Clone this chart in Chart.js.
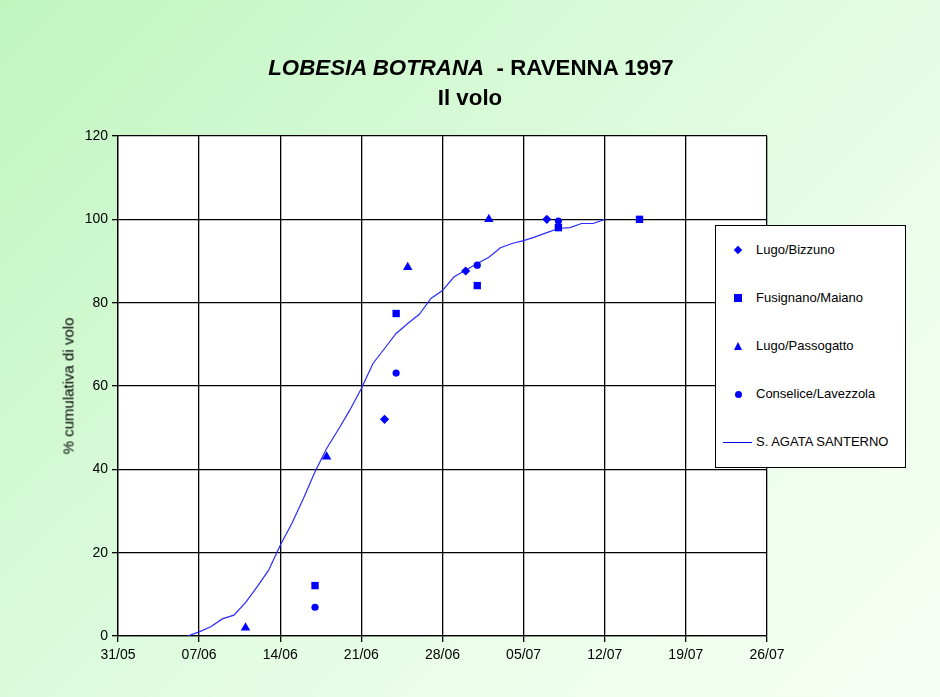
<!DOCTYPE html>
<html>
<head>
<meta charset="utf-8">
<script src="https://cdn.jsdelivr.net/npm/chart.js@4.4.1/dist/chart.umd.min.js"></script>
<style>
    html, body { margin: 0; padding: 0; }
    body {
        width: 940px; height: 697px; overflow: hidden; position: relative;
        font-family: "Liberation Sans", Arial, sans-serif;
        background: linear-gradient(135deg, #c0f5c0 0%, #dcfbdc 45%, #eefeec 75%, #f6fff4 100%);
    }
    #chart { position: absolute; left: 0; top: 0; }
    .title { position: absolute; left: 0; width: 940px; text-align: center; font-size: 22.3px; color: #000; font-weight: bold; }
    .title1 { top: 55px; left: 1px; }
    .title2 { top: 85px; }
    .ytitle {
        position: absolute; left: 68px; top: 386px; font-size: 15px; color: #000; font-weight: normal;
        transform: translate(-50%, -50%) rotate(-90deg); white-space: nowrap;
    }
    .legend {
        position: absolute; left: 715px; top: 225px; width: 191px; height: 243px;
        background: #fff; border: 1px solid #000; box-sizing: border-box;
    }
    .legend-item { position: absolute; left: 0; height: 16px; font-size: 13px; color: #000; }
    .legend-item span { position: absolute; left: 40px; top: 0; white-space: nowrap; line-height: 16px; }
    .mk { position: absolute; background: #0000ff; }
</style>
</head>
<body>
<canvas id="chart" width="940" height="697"></canvas>
<div class="title title1"><i>LOBESIA BOTRANA</i>&nbsp; - RAVENNA 1997</div>
<div class="title title2">Il volo</div>
<div class="ytitle">% cumulativa di volo</div>
<div class="legend" id="legend"></div>
<script>
// giorni dal 31/05
const tickLabels = ['31/05', '07/06', '14/06', '21/06', '28/06', '05/07', '12/07', '19/07', '26/07'];

const bizzunoDays = [23, 30, 37];
const bizzunoValues = [52, 87.6, 100];

const fusignanoDays = [17, 24, 31, 38, 45];
const fusignanoValues = [12.1, 77.4, 84.1, 98, 100];

const passogattoDays = [11, 18, 25, 32];
const passogattoValues = [2, 43, 88.5, 100];

const conseliceDays = [17, 24, 31, 38];
const conseliceValues = [6.9, 63.1, 89, 99.6];

const santernoDays = [6, 7, 8, 9, 10, 11, 12, 13, 14, 15, 16, 17, 18, 19, 20, 21, 22, 23, 24,
    25, 26, 27, 28, 29, 30, 31, 32, 33, 34, 35, 36, 37, 38, 39, 40, 41, 42];
const santernoValues = [0, 1, 2.2, 4.1, 5, 8, 11.8, 15.8, 21.8, 27, 33, 39.4, 45, 49.5, 54.2, 59.4, 65.4, 69, 72.6,
    75, 77.2, 81, 82.9, 86.2, 87.8, 89.4, 90.9, 93.2, 94.2, 94.9, 95.8, 96.8, 97.8, 98, 99, 99, 100];

const BLUE = '#0000ff';
const FONT = '"Liberation Sans", Arial, sans-serif';

function toPoints(xs, ys) {
    return xs.map((x, i) => ({ x: x, y: ys[i] }));
}

new Chart(document.getElementById('chart'), {
    type: 'scatter',
    data: {
        datasets: [
            {
                label: 'Lugo/Bizzuno',
                data: toPoints(bizzunoDays, bizzunoValues),
                pointStyle: 'rectRot', pointRadius: 4.6,
                backgroundColor: BLUE, borderColor: BLUE, borderWidth: 0
            },
            {
                label: 'Fusignano/Maiano',
                data: toPoints(fusignanoDays, fusignanoValues),
                pointStyle: 'rect', pointRadius: 5.2,
                backgroundColor: BLUE, borderColor: BLUE, borderWidth: 0
            },
            {
                label: 'Lugo/Passogatto',
                data: toPoints(passogattoDays, passogattoValues),
                pointStyle: 'triangle', pointRadius: 5.5,
                backgroundColor: BLUE, borderColor: BLUE, borderWidth: 0
            },
            {
                label: 'Conselice/Lavezzola',
                data: toPoints(conseliceDays, conseliceValues),
                pointStyle: 'circle', pointRadius: 3.6,
                backgroundColor: BLUE, borderColor: BLUE, borderWidth: 0
            },
            {
                label: 'S. AGATA SANTERNO',
                data: toPoints(santernoDays, santernoValues),
                showLine: true, pointRadius: 0, tension: 0,
                borderColor: '#2a2aff', borderWidth: 1.2, fill: false
            }
        ]
    },
    options: {
        responsive: false,
        animation: false,
        layout: { padding: { left: 0, top: 136, right: 173, bottom: 0 } },
        plugins: {
            legend: { display: false },
            tooltip: { enabled: false },
            title: { display: false }
        },
        scales: {
            x: {
                type: 'linear',
                min: 0, max: 56,
                afterFit: s => { s.height = 61; },
                afterBuildTicks: s => { s.ticks = tickLabels.map((t, i) => ({ value: i * 7 })); },
                grid: { color: '#000', lineWidth: 1.3, tickLength: 6, drawTicks: true },
                border: { color: '#000', width: 1.3 },
                ticks: {
                    padding: 5, color: '#000', maxRotation: 0,
                    font: { family: FONT, size: 14 },
                    callback: v => tickLabels[Math.round(v / 7)]
                }
            },
            y: {
                min: 0, max: 120,
                afterFit: s => { s.width = 118; },
                grid: { color: '#000', lineWidth: 1.3, tickLength: 6, drawTicks: true },
                border: { color: '#000', width: 1.3 },
                ticks: {
                    stepSize: 20, padding: 4, color: '#000',
                    font: { family: FONT, size: 14 }
                }
            }
        }
    },
    plugins: [{
        id: 'whiteArea',
        beforeDraw(chart) {
            const a = chart.chartArea, c = chart.ctx;
            c.save();
            c.fillStyle = '#fff';
            c.fillRect(a.left, a.top, a.right - a.left, a.bottom - a.top);
            c.restore();
        }
    }]
});

// legenda
const legendItems = [
    { label: 'Lugo/Bizzuno', mark: 'diamond' },
    { label: 'Fusignano/Maiano', mark: 'square' },
    { label: 'Lugo/Passogatto', mark: 'triangle' },
    { label: 'Conselice/Lavezzola', mark: 'circle' },
    { label: 'S. AGATA SANTERNO', mark: 'line' }
];
const legendEl = document.getElementById('legend');
legendItems.forEach((item, i) => {
    const row = document.createElement('div');
    row.className = 'legend-item';
    row.style.top = (16 + i * 48) + 'px';
    row.style.width = '188px';
    const mk = document.createElement('div');
    mk.className = 'mk';
    if (item.mark === 'diamond') {
        Object.assign(mk.style, { left: '19px', top: '5px', width: '6px', height: '6px', transform: 'rotate(45deg)' });
    } else if (item.mark === 'square') {
        Object.assign(mk.style, { left: '18px', top: '4px', width: '8px', height: '8px' });
    } else if (item.mark === 'circle') {
        Object.assign(mk.style, { left: '19px', top: '5px', width: '7px', height: '7px', borderRadius: '50%' });
    } else if (item.mark === 'triangle') {
        Object.assign(mk.style, {
            left: '18px', top: '4px', width: '0', height: '0', background: 'transparent',
            borderLeft: '4.5px solid transparent', borderRight: '4.5px solid transparent', borderBottom: '8px solid ' + BLUE
        });
    } else {
        Object.assign(mk.style, { left: '7px', top: '8px', width: '29px', height: '1px' });
        mk.style.background = '#0000ee';
    }
    const txt = document.createElement('span');
    txt.textContent = item.label;
    row.appendChild(mk);
    row.appendChild(txt);
    legendEl.appendChild(row);
});
</script>
</body>
</html>
